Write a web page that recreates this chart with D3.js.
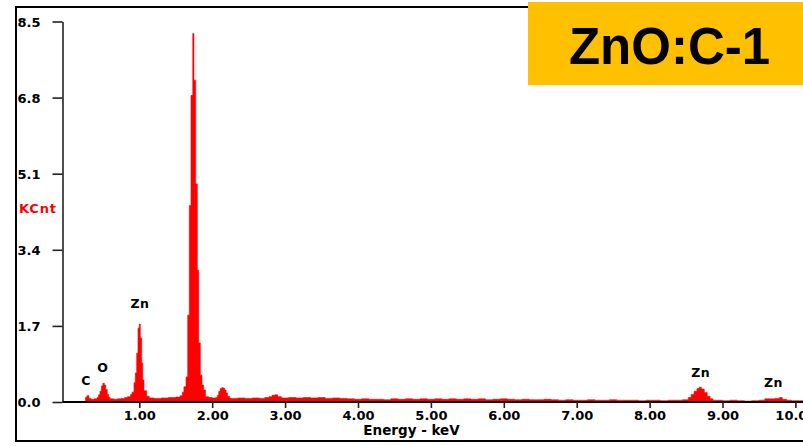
<!DOCTYPE html>
<html>
<head>
<meta charset="utf-8">
<script src="https://cdn.jsdelivr.net/npm/d3@7"></script>
<style>
  html, body { margin: 0; padding: 0; background: #fff; }
  svg { display: block; }
  .lbl { font-family: "DejaVu Sans", Verdana, sans-serif; font-weight: bold; }
</style>
</head>
<body>
<svg id="chart" width="803" height="446"></svg>
<script>
// EDS spectrum of ZnO:C-1 — energy bin start (keV) and counts (KCnt)
const energyKeV = [
  0.00, 0.26, 0.28, 0.31, 0.34, 0.38, 0.42, 0.44, 0.46, 0.48, 0.50, 0.52, 0.54, 0.56, 0.58,
  0.60, 0.65, 0.70, 0.75, 0.80, 0.84, 0.88, 0.900, 0.927, 0.945, 0.964, 0.982, 1.000, 1.014,
  1.033, 1.047, 1.064, 1.101, 1.137, 1.20, 1.30, 1.40, 1.50, 1.56, 1.59,
  1.612, 1.641, 1.664, 1.686, 1.709, 1.733, 1.750, 1.774, 1.796, 1.815, 1.837, 1.860, 1.883,
  1.908, 1.95, 2.00, 2.05, 2.07, 2.09, 2.11, 2.13, 2.15, 2.17, 2.19, 2.21, 2.24,
  2.25, 2.35, 2.45, 2.55, 2.65, 2.72, 2.78, 2.82, 2.86, 2.90, 2.95,
  3.05, 3.15, 3.25, 3.35, 3.45, 3.55, 3.65, 3.75, 3.85, 3.95,
  4.05, 4.15, 4.25, 4.35, 4.45, 4.55, 4.65, 4.75, 4.85, 4.95,
  5.05, 5.15, 5.25, 5.35, 5.45, 5.55, 5.65, 5.75, 5.85, 5.95,
  6.05, 6.15, 6.25, 6.35, 6.45, 6.55, 6.65, 6.75, 6.85, 6.95,
  7.05, 7.15, 7.25, 7.35, 7.45, 7.55, 7.65, 7.75, 7.85, 7.95,
  8.05, 8.15, 8.25, 8.35, 8.45, 8.50, 8.53, 8.57, 8.61, 8.65, 8.68, 8.71, 8.75, 8.79, 8.83, 8.87,
  8.90, 9.00, 9.10, 9.20, 9.30, 9.40, 9.50, 9.58, 9.65, 9.72, 9.78, 9.82, 9.88, 9.95,
  10.05, 10.20, 10.40, 10.60
];
const countsK = [
  0.00, 0.10, 0.14, 0.08, 0.06, 0.07, 0.10, 0.16, 0.24, 0.36, 0.42, 0.38, 0.28, 0.17, 0.10,
  0.07, 0.06, 0.07, 0.08, 0.10, 0.12, 0.17, 0.22, 0.43, 0.65, 1.09, 1.65, 1.74, 1.43,
  0.87, 0.49, 0.25, 0.13, 0.09, 0.08, 0.09, 0.10, 0.11, 0.14, 0.22,
  0.34, 0.56, 1.94, 4.39, 6.85, 8.23, 7.19, 4.87, 2.95, 1.32, 0.60, 0.38, 0.27,
  0.12, 0.10, 0.09, 0.10, 0.15, 0.24, 0.30, 0.32, 0.31, 0.27, 0.20, 0.13, 0.09,
  0.08, 0.09, 0.08, 0.09, 0.08, 0.10, 0.12, 0.15, 0.16, 0.12, 0.09,
  0.10, 0.09, 0.10, 0.09, 0.10, 0.08, 0.09, 0.08, 0.07, 0.06,
  0.07, 0.06, 0.06, 0.05, 0.07, 0.06, 0.07, 0.06, 0.07, 0.06,
  0.07, 0.06, 0.07, 0.06, 0.07, 0.06, 0.07, 0.05, 0.06, 0.07,
  0.06, 0.05, 0.06, 0.05, 0.05, 0.06, 0.05, 0.04, 0.05, 0.04,
  0.04, 0.05, 0.04, 0.04, 0.05, 0.04, 0.04, 0.04, 0.03, 0.04,
  0.04, 0.03, 0.04, 0.04, 0.05, 0.05, 0.10, 0.17, 0.24, 0.30, 0.33, 0.29, 0.21, 0.13, 0.07, 0.04,
  0.04, 0.03, 0.04, 0.03, 0.02, 0.03, 0.04, 0.07, 0.07, 0.08, 0.10, 0.06, 0.04, 0.03,
  0.03, 0.03, 0.03, 0.00
];

const yTicks = [0.0, 1.7, 3.4, 5.1, 6.8, 8.5];
const xTicks = [1, 2, 3, 4, 5, 6, 7, 8, 9, 10];

// Element labels: [text, energy keV, counts level for placement]
const peakLabels = [
  { text: "C",  e: 0.27, k: 0.38 },
  { text: "O",  e: 0.50, k: 0.68 },
  { text: "Zn", e: 1.01, k: 2.11 },
  { text: "Zn", e: 8.70, k: 0.56 },
  { text: "Zn", e: 9.70, k: 0.34 }
];

const titleText = "ZnO:C-1";

const svg = d3.select("#chart");

const x = d3.scaleLinear().domain([0, 10]).range([66.4, 795.4]);
const y = d3.scaleLinear().domain([0, 8.5]).range([402, 21.5]);

// Outer frame
svg.append("rect")
  .attr("x", 16).attr("y", 7)
  .attr("width", 810).attr("height", 434)
  .attr("fill", "none").attr("stroke", "#000").attr("stroke-width", 2);

// Spectrum as a stepped filled area
const spectrum = energyKeV.map((e, i) => ({ e, k: countsK[i] }));
const area = d3.area()
  .curve(d3.curveStepAfter)
  .x(d => x(d.e))
  .y0(y(0))
  .y1(d => y(d.k));

svg.append("path")
  .datum(spectrum)
  .attr("d", area)
  .attr("fill", "#ff0000")
  .attr("stroke", "#ff0000")
  .attr("stroke-width", 0.6);

// Y axis: ticks pointing left, labels at the far left
const yAxis = d3.axisLeft(y)
  .tickValues(yTicks)
  .tickSize(10)
  .tickSizeOuter(0)
  .tickFormat(d3.format(".1f"));

const gy = svg.append("g")
  .attr("transform", "translate(62.5,0)")
  .call(yAxis);
gy.select(".domain").attr("stroke", "#222").attr("stroke-width", 1.6);
gy.selectAll(".tick line").attr("stroke", "#222").attr("stroke-width", 1.6);
gy.selectAll(".tick text")
  .attr("class", "lbl")
  .attr("x", -45)
  .attr("dy", "0.36em")
  .attr("text-anchor", "start")
  .attr("font-size", 13)
  .attr("fill", "#000");

// X axis along the bottom of the plot
const xAxis = d3.axisBottom(x)
  .tickValues(xTicks)
  .tickSize(6)
  .tickSizeOuter(0)
  .tickFormat(d3.format(".2f"));

const gx = svg.append("g")
  .attr("transform", `translate(0,${y(0)})`)
  .call(xAxis);
gx.select(".domain")
  .attr("d", `M62.5,0H${803 + 20}`)
  .attr("stroke", "#000").attr("stroke-width", 2);
gx.selectAll(".tick line").attr("stroke", "#222").attr("stroke-width", 1.6);
gx.selectAll(".tick text")
  .attr("class", "lbl")
  .attr("y", 18)
  .attr("dy", 0)
  .attr("font-size", 13)
  .attr("fill", "#000");

// Axis titles
svg.append("text")
  .attr("class", "lbl")
  .attr("x", 411.5).attr("y", 435)
  .attr("text-anchor", "middle")
  .attr("font-size", 13.5)
  .attr("fill", "#000")
  .text("Energy - keV");

svg.append("text")
  .attr("class", "lbl")
  .attr("x", 19).attr("y", 213)
  .attr("font-size", 13)
  .attr("letter-spacing", 0.8)
  .attr("fill", "#ff0000")
  .text("KCnt");

// Element labels above peaks
svg.append("g").selectAll("text")
  .data(peakLabels)
  .join("text")
  .attr("class", "lbl")
  .attr("x", d => x(d.e))
  .attr("y", d => y(d.k))
  .attr("text-anchor", "middle")
  .attr("font-size", 12.5)
  .attr("letter-spacing", 0.5)
  .attr("fill", "#000")
  .text(d => d.text);

// Sample title badge
svg.append("rect")
  .attr("x", 528).attr("y", 2)
  .attr("width", 280).attr("height", 83)
  .attr("fill", "#ffc000");

svg.append("text")
  .attr("x", 669.5).attr("y", 63.5)
  .attr("text-anchor", "middle")
  .attr("font-family", "'Liberation Sans', Arial, sans-serif")
  .attr("font-weight", "bold")
  .attr("font-size", 51)
  .attr("fill", "#000")
  .text(titleText);
</script>
</body>
</html>
